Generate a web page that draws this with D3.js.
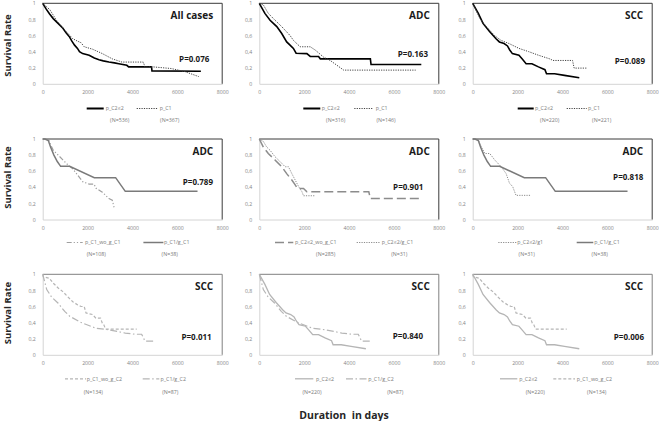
<!DOCTYPE html>
<html><head><meta charset="utf-8">
<script src="https://cdn.jsdelivr.net/npm/d3@7"></script>
<style>
body{margin:0;background:#fff}
svg{display:block}
text{font-family:"Open Sans",sans-serif}
</style>
</head><body>
<svg id="c" width="659" height="421"></svg>
<script>
// ---- tick labels ----
const xTicks = [0, 2000, 4000, 6000, 8000];
const yTicks = [0, 0.2, 0.4, 0.6, 0.8, 1];

// ---- survival curves [days, survival rate] ----
const all_C2le2 = [[0,1],[150,0.93],[300,0.87],[470,0.81],[650,0.76],[900,0.69],[1050,0.63],[1200,0.58],[1300,0.53],[1420,0.48],[1550,0.44],[1640,0.40],[1780,0.375],[2070,0.355],[2300,0.32],[2510,0.30],[2700,0.285],[2950,0.27],[3200,0.26],[3390,0.25],[3750,0.23],[3830,0.21],[4850,0.21],[4870,0.16],[7050,0.155]];
const all_C1 = [[0,1],[320,0.92],[610,0.79],[980,0.67],[1340,0.56],[1550,0.53],[1710,0.51],[1850,0.46],[2220,0.43],[2660,0.375],[3100,0.31],[3530,0.27],[4480,0.27],[4560,0.21],[4920,0.21],[5720,0.19],[6300,0.155],[6600,0.125],[6950,0.09]];
const adc_C2le2 = [[0,1],[250,0.875],[480,0.79],[780,0.71],[1000,0.625],[1220,0.52],[1370,0.48],[1520,0.44],[1640,0.38],[2120,0.375],[2270,0.34],[2640,0.34],[2720,0.31],[4950,0.31],[4980,0.24],[7220,0.24]];
const adc_C1 = [[0,1],[180,0.98],[400,0.875],[700,0.79],[1000,0.71],[1370,0.60],[1520,0.54],[1820,0.46],[2270,0.46],[2490,0.42],[2870,0.33],[3160,0.29],[3460,0.23],[3760,0.17],[6970,0.17]];
const scc_C2le2 = [[0,1],[250,0.875],[460,0.75],[750,0.65],[1040,0.56],[1190,0.52],[1400,0.50],[1550,0.47],[1650,0.42],[1770,0.375],[2060,0.355],[2200,0.31],[2380,0.25],[2640,0.25],[2930,0.21],[3220,0.175],[3290,0.125],[3650,0.125],[4090,0.105],[4750,0.075]];
const scc_C1 = [[0,1],[320,0.81],[610,0.71],[970,0.60],[1260,0.54],[1620,0.50],[2060,0.44],[2490,0.40],[2930,0.355],[3430,0.31],[3580,0.29],[4450,0.29],[4520,0.195],[5100,0.195]];
const adc_C1_wo_gC1 = [[0,1],[250,1],[320,0.95],[470,0.86],[690,0.80],[900,0.74],[1120,0.68],[1340,0.63],[1560,0.55],[1780,0.47],[2070,0.44],[2290,0.44],[2370,0.39],[2660,0.34],[2950,0.26],[3100,0.24],[3200,0.13]];
const adc_C1_gC1 = [[0,1],[100,1],[250,0.98],[350,0.90],[500,0.80],[650,0.72],[800,0.66],[1200,0.66],[2300,0.52],[3250,0.52],[3680,0.35],[6900,0.35]];
const adc_C2le2_wo_gC1 = [[0,1],[180,0.90],[400,0.82],[700,0.74],[1000,0.655],[1220,0.57],[1450,0.49],[1600,0.43],[1700,0.385],[1970,0.385],[2120,0.345],[4880,0.345],[4950,0.26],[7250,0.26]];
const adc_C2le2_gC1 = [[0,1],[180,0.97],[330,0.90],[480,0.86],[700,0.78],[925,0.72],[1150,0.655],[1300,0.655],[1450,0.57],[1600,0.49],[1750,0.41],[1900,0.345],[1970,0.295],[2500,0.295]];
const adc_C2le2_g1 = [[0,1],[250,0.99],[390,0.90],[540,0.82],[760,0.82],[980,0.74],[1270,0.655],[1490,0.57],[1640,0.45],[1780,0.41],[1930,0.30],[2590,0.30]];
const scc_C1_wo_gC2 = [[0,1],[30,0.97],[300,0.95],[470,0.89],[690,0.83],[900,0.785],[1120,0.72],[1340,0.66],[1560,0.62],[1710,0.60],[1850,0.60],[1930,0.52],[2220,0.50],[2370,0.455],[2580,0.455],[2660,0.39],[2730,0.37],[2800,0.32],[4190,0.32]];
const scc_C1_gC2 = [[0,1],[30,0.97],[180,0.81],[390,0.72],[690,0.64],[980,0.54],[1200,0.48],[1640,0.41],[2000,0.37],[2370,0.33],[2950,0.31],[3680,0.27],[4120,0.255],[4410,0.255],[4560,0.17],[5000,0.17]];

// ---- panel texts ----
const titles = ["All cases","ADC","SCC","ADC","ADC","ADC","SCC","SCC","SCC"];
const pValues = ["P=0.076","P=0.163","P=0.089","P=0.789","P=0.901","P=0.818","P=0.011","P=0.840","P=0.006"];
const seriesNames = [
  ["p_C2≤2","p_C1"],["p_C2≤2","p_C1"],["p_C2≤2","p_C1"],
  ["p_C1_wo_g_C1","p_C1/g_C1"],["p_C2≤2_wo_g_C1","p_C2≤2/g_C1"],["p_C2≤2/g1","p_C1/g_C1"],
  ["p_C1_wo_g_C2","p_C1/g_C2"],["p_C2≤2","p_C1/g_C2"],["p_C2≤2","p_C1_wo_g_C2"]
];
const seriesN = [
  ["(N=536)","(N=367)"],["(N=316)","(N=146)"],["(N=220)","(N=221)"],
  ["(N=108)","(N=38)"],["(N=285)","(N=31)"],["(N=31)","(N=38)"],
  ["(N=134)","(N=87)"],["(N=220)","(N=87)"],["(N=220)","(N=134)"]
];
const seriesData = [
  [all_C2le2, all_C1],[adc_C2le2, adc_C1],[scc_C2le2, scc_C1],
  [adc_C1_wo_gC1, adc_C1_gC1],[adc_C2le2_wo_gC1, adc_C2le2_gC1],[adc_C2le2_g1, adc_C1_gC1],
  [scc_C1_wo_gC2, scc_C1_gC2],[scc_C2le2, scc_C1_gC2],[scc_C2le2, scc_C1_wo_gC2]
];

// ---- styling / layout (not data) ----
const styles = {
  solidBlack:{stroke:"#000", w:1.6, dash:null, lw:2},
  dotDark:{stroke:"#444", w:1, dash:"1.2,1.2", lw:1},
  solidMid:{stroke:"#7a7a7a", w:1.5, dash:null, lw:1.5},
  dashDotDot:{stroke:"#a0a0a0", w:1.2, dash:"5,2,1.2,2,1.2,2", lw:1.2},
  longDash:{stroke:"#8c8c8c", w:1.5, dash:"9,4", lw:1.5},
  dotMid:{stroke:"#8c8c8c", w:1, dash:"1.2,1.2", lw:1},
  shortDashLight:{stroke:"#b5b5b5", w:1.2, dash:"3,2", lw:1.2},
  dashDotLight:{stroke:"#b5b5b5", w:1.2, dash:"7,2.5,1.5,2.5", lw:1.2},
  solidLight:{stroke:"#b5b5b5", w:1.3, dash:null, lw:1.3}
};
const panelStyles = [
  ["solidBlack","dotDark"],["solidBlack","dotDark"],["solidBlack","dotDark"],
  ["dashDotDot","solidMid"],["longDash","dotMid"],["dotMid","solidMid"],
  ["shortDashLight","dashDotLight"],["solidLight","dashDotLight"],["solidLight","shortDashLight"]
];
const colX0 = [42.7, 259.3, 472.7];
const rowY0 = [3.3, 139, 274.3];
const W = 179.5, H = 80.5;
const legendDy = [24.7, 23, 24];
const nDy = [36, 34.5, 37.3];
const frameColor = ["#3a3a3a","#3a3a3a","#808080"];
// legend: [line1 start, line1 end, text1 x, line2 start, line2 end, text2 x, N1 center, N2 center] relative to x0
const legendPos = [
  [44,61,63,94,115,117,77,127],
  [44,61,62.4,95,114,116.4,76.4,126.7],
  [45,61,62.3,94,114,115.3,77,129],
  [24,40,42.3,100.7,120.7,121.3,53.6,127],
  [15.7,34,35.7,97.4,120.7,122.4,66.4,140],
  [25.6,44,44.6,104,120.6,121.6,54,127],
  [22.3,43.3,44,100,116.6,117.8,50.6,127.6],
  [35.7,54,56.7,86.7,107.4,109,52.7,136],
  [27.3,44.6,46.6,80.6,102.3,104,62.6,124]
];
// P-value: [offset of right edge from frame right, baseline offset from top]
const pPos = [[-12.9,58.9],[-10.8,53.9],[-7.2,60.3],[-9.2,45.6],[-15.5,51.2],[-8.9,41.2],[-10.5,65.3],[-15.8,64.6],[-8.2,65.3]];

const svg = d3.select("#c");
const fmtY = d => d === 0 ? "0" : d === 1 ? "1" : String(d).replace(".", ",");

for (let i = 0; i < 9; i++) {
  const r = Math.floor(i / 3), c = i % 3;
  const x0 = colX0[c], y0 = rowY0[r];
  const x = d3.scaleLinear().domain([0, 8000]).range([x0, x0 + W]);
  const y = d3.scaleLinear().domain([0, 1]).range([y0 + H, y0]);
  const g = svg.append("g");

  // axes
  const ax = g.append("g").attr("transform", `translate(0,${y0 + H})`)
    .call(d3.axisBottom(x).tickValues(xTicks).tickSize(0).tickPadding(6.5).tickFormat(d3.format("d")));
  const ay = g.append("g").attr("transform", `translate(${x0},0)`)
    .call(d3.axisLeft(y).tickValues(yTicks).tickSize(0).tickPadding(7).tickFormat(fmtY));
  [ax, ay].forEach(a => {
    a.select(".domain").attr("stroke", "#d4d4d4").attr("stroke-width", 1);
    a.selectAll("text").attr("fill", "#858585").style("font-size", "5.2px").style("font-family", "'Open Sans',sans-serif");
  });
  // frame top & right
  g.append("path")
    .attr("d", `M${x(0)},${y(1)}H${x(8000)}V${y(0)}`)
    .attr("fill", "none").attr("stroke", frameColor[r]).attr("stroke-width", 1);

  // curves
  const line = d3.line().x(d => x(d[0])).y(d => y(d[1]));
  seriesData[i].forEach((data, k) => {
    const s = styles[panelStyles[i][k]];
    g.append("path").datum(data).attr("d", line)
      .attr("fill", "none").attr("stroke", s.stroke).attr("stroke-width", s.w)
      .attr("stroke-dasharray", s.dash).attr("stroke-linejoin", "miter");
  });

  // title + P
  g.append("text").attr("x", x(8000) - 9).attr("y", y0 + 15.5).attr("text-anchor", "end")
    .attr("fill", "#1a1a1a").style("font-size", "10px").style("font-weight", "bold").text(titles[i]);
  g.append("text").attr("x", x(8000) + pPos[i][0]).attr("y", y0 + pPos[i][1]).attr("text-anchor", "end")
    .attr("fill", "#1a1a1a").style("font-size", "8px").style("font-weight", "bold").text(pValues[i]);

  // legend
  const lp = legendPos[i];
  const ly = y0 + H + legendDy[r], ny = y0 + H + nDy[r];
  [0, 1].forEach(k => {
    const s = styles[panelStyles[i][k]];
    g.append("line").attr("x1", x0 + lp[k * 3]).attr("x2", x0 + lp[k * 3 + 1]).attr("y1", ly).attr("y2", ly)
      .attr("stroke", s.stroke).attr("stroke-width", s.lw).attr("stroke-dasharray", s.dash);
    g.append("text").attr("x", x0 + lp[k * 3 + 2]).attr("y", ly).attr("dy", "0.35em")
      .attr("fill", "#7a7a7a").style("font-size", "5.3px").text(seriesNames[i][k]);
    g.append("text").attr("x", x0 + lp[6 + k]).attr("y", ny).attr("dy", "0.35em").attr("text-anchor", "middle")
      .attr("fill", "#7a7a7a").style("font-size", "5.3px").text(seriesN[i][k]);
  });
}

// row labels
rowY0.forEach((y0, r) => {
  const cy = [45.5, 177.5, 313][r];
  svg.append("text").attr("transform", `translate(10.5,${cy}) rotate(-90)`).attr("text-anchor", "middle")
    .attr("fill", "#262626").style("font-size", "9.5px").style("font-weight", "bold").text("Survival Rate");
});
svg.append("text").attr("x", 344).attr("y", 418.5).attr("text-anchor", "middle")
  .attr("fill", "#262626").style("font-size", "10.5px").style("font-weight", "bold").style("white-space", "pre")
  .text("Duration  in days");
</script>
</body></html>
